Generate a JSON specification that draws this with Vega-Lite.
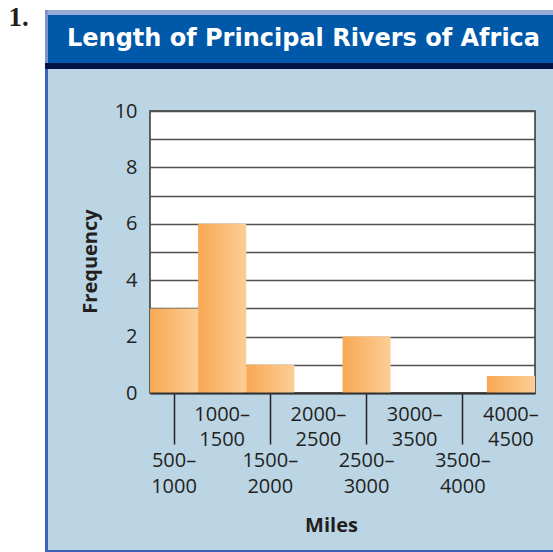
{
  "$schema": "https://vega.github.io/schema/vega-lite/v6.json",
  "padding": 0,
  "background": "#bbd5e5",
  "spacing": 0,
  "bounds": "full",
  "config": {"view": {"stroke": null}, "concat": {"spacing": 0}, "font": "Open Sans"},
  "hconcat": [
    {
      "spacing": 0,
      "bounds": "flush",
      "vconcat": [
        {
          "width": 45, "height": 35,
          "view": {"fill": "#ffffff"},
          "data": {"values": [{"n": "1."}]},
          "mark": {"type": "text", "font": "Liberation Serif", "fontSize": 27, "fontWeight": "bold", "color": "#231f20", "align": "center", "baseline": "middle", "dx": -4, "dy": 0},
          "encoding": {"text": {"field": "n", "type": "nominal"}}
        },
        {"width": 45, "height": 517, "view": {"fill": "#ffffff"}, "data": {"values": []}, "mark": "point", "encoding": {}}
      ]
    },
    {
      "spacing": 0,
      "bounds": "flush",
      "vconcat": [
        {"width": 3, "height": 10, "view": {"fill": "#ffffff"}, "data": {"values": []}, "mark": "point", "encoding": {}},
        {"width": 3, "height": 53, "view": {"fill": "#7f94cb"}, "data": {"values": []}, "mark": "point", "encoding": {}},
        {"width": 3, "height": 6, "view": {"fill": "#001446"}, "data": {"values": []}, "mark": "point", "encoding": {}},
        {"width": 3, "height": 483, "view": {"fill": "#3a62b8"}, "data": {"values": []}, "mark": "point", "encoding": {}}
      ]
    },
    {
      "spacing": 0,
      "bounds": "full",
      "vconcat": [
        {"width": 505, "height": 10, "view": {"fill": "#ffffff"}, "data": {"values": []}, "mark": "point", "encoding": {}},
        {"width": 505, "height": 5, "view": {"fill": "#97a9d6"}, "data": {"values": []}, "mark": "point", "encoding": {}},
        {
          "width": 505, "height": 48,
          "view": {"fill": "#0058a9"},
          "data": {"values": [{"t": "Length of Principal Rivers of Africa"}]},
          "mark": {"type": "text", "font": "DejaVu Sans", "fontSize": 24, "fontWeight": "bold", "color": "#ffffff", "baseline": "middle", "align": "center", "dx": 3, "dy": 0},
          "encoding": {"text": {"field": "t", "type": "nominal"}}
        },
        {"width": 505, "height": 6, "view": {"fill": "#001446"}, "data": {"values": []}, "mark": "point", "encoding": {}},
        {"width": 505, "height": 31, "data": {"values": []}, "mark": "point", "encoding": {}},
        {
          "spacing": 0,
          "bounds": "flush",
          "hconcat": [
            {"width": 102, "height": 282, "data": {"values": []}, "mark": "point", "encoding": {}},
            {
              "width": 385, "height": 282,
              "view": {"fill": "#ffffff", "stroke": "#333333", "strokeWidth": 1.5},
              "data": {"values": [
                {"bin": "500–1000", "freq": 3},
                {"bin": "1000–1500", "freq": 6},
                {"bin": "1500–2000", "freq": 1},
                {"bin": "2000–2500", "freq": 0},
                {"bin": "2500–3000", "freq": 2},
                {"bin": "3000–3500", "freq": 0},
                {"bin": "3500–4000", "freq": 0},
                {"bin": "4000–4500", "freq": 0.6}
              ]},
              "resolve": {"axis": {"x": "independent"}},
              "layer": [
                {
                  "mark": {"type": "bar", "color": {"gradient": "linear", "x1": 0, "y1": 0, "x2": 1, "y2": 0, "stops": [{"offset": 0, "color": "#f8a954"}, {"offset": 1, "color": "#fdcd95"}]}},
                  "encoding": {
                    "x": {
                      "field": "bin", "type": "nominal", "sort": null,
                      "scale": {"paddingInner": 0, "paddingOuter": 0},
                      "axis": {
                        "orient": "bottom",
                        "values": ["500–1000", "1500–2000", "2500–3000", "3500–4000"],
                        "labelExpr": "[split(datum.label, '–')[0] + '–', split(datum.label, '–')[1]]",
                        "labelAngle": 0, "labelFont": "Open Sans", "labelFontSize": 20, "labelColor": "#231f20",
                        "labelLineHeight": 26, "labelPadding": 6, "labelBaseline": "top",
                        "ticks": true, "tickSize": 51, "tickColor": "#231f20", "tickWidth": 1.5,
                        "domain": false, "grid": false,
                        "title": "Miles", "titleFont": "Open Sans", "titleFontSize": 20, "titleFontWeight": "bold", "titleColor": "#231f20",
                        "titleBaseline": "top", "titleX": 181, "titleY": 122
                      }
                    },
                    "y": {
                      "field": "freq", "type": "quantitative",
                      "scale": {"domain": [0, 10], "nice": false},
                      "axis": {
                        "values": [0, 1, 2, 3, 4, 5, 6, 7, 8, 9, 10],
                        "labelExpr": "datum.value % 2 == 0 ? datum.label : ''",
                        "labelFont": "Open Sans", "labelFontSize": 20, "labelColor": "#231f20", "labelPadding": 13,
                        "ticks": false, "tickSize": 0, "domain": false,
                        "grid": true, "gridColor": "#505050", "gridWidth": 1.4,
                        "title": "Frequency", "titleFont": "Open Sans", "titleFontSize": 20, "titleFontWeight": "bold", "titleColor": "#231f20",
                        "titleAngle": 270, "titleBaseline": "alphabetic", "titleAlign": "center", "titleX": -54, "titleY": 150
                      }
                    }
                  }
                },
                {
                  "mark": {"type": "bar", "opacity": 0},
                  "encoding": {
                    "x": {
                      "field": "bin", "type": "nominal", "sort": null,
                      "axis": {
                        "orient": "bottom",
                        "values": ["1000–1500", "2000–2500", "3000–3500", "4000–4500"],
                        "labelExpr": "[split(datum.label, '–')[0] + '–', split(datum.label, '–')[1]]",
                        "labelAngle": 0, "labelFont": "Open Sans", "labelFontSize": 20, "labelColor": "#231f20",
                        "labelLineHeight": 25, "labelPadding": 11, "labelBaseline": "top",
                        "ticks": false, "tickSize": 0,
                        "domain": true, "domainColor": "#333333", "domainWidth": 2,
                        "grid": false, "title": null, "zindex": 1
                      }
                    }
                  }
                }
              ]
            }
          ]
        },
        {"width": 505, "height": 14, "data": {"values": []}, "mark": "point", "encoding": {}},
        {"width": 505, "height": 3, "view": {"fill": "#3a62b8"}, "data": {"values": []}, "mark": "point", "encoding": {}}
      ]
    }
  ]
}
